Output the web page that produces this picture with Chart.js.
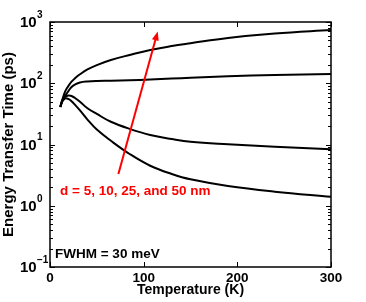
<!DOCTYPE html>
<html>
<head>
<meta charset="utf-8">
<script src="https://cdn.jsdelivr.net/npm/chart.js@4/dist/chart.umd.min.js"></script>
<style>
  html, body { margin: 0; padding: 0; background: #fff; }
  #wrap { width: 366px; height: 302px; }
</style>
</head>
<body>
<div id="wrap"><canvas id="chart" width="366" height="302"></canvas></div>
<script>
// temperature grid (K)
const temps = [11, 13, 15, 17, 20, 23, 27, 32, 40, 50, 65, 85, 107, 130, 150, 190, 240, 300]
// energy transfer time (ps) for each separation
const d50 = [41, 53, 66, 78, 92, 106, 122, 140, 168, 198, 240, 290, 350, 405, 450, 550, 650, 740]
const d25 = [41, 50, 58, 65, 76, 87, 96, 103, 107, 109, 110, 112, 115, 119, 123, 130, 136, 142]
const d10 = [41, 52, 58, 61, 63, 62, 57, 50, 39, 31.5, 23.5, 18, 14.3, 12.3, 11.1, 10.1, 9.2, 8.4]
const d5 = [41, 50, 55, 57, 55, 51, 44, 36, 25.5, 17.5, 11.5, 7.0, 4.5, 3.3, 2.7, 2.1, 1.7, 1.4]

const xTicks = [0, 100, 200, 300]
const yPowers = [-1, 0, 1, 2, 3]
const arrowFrom = { x: 73, y: 3.3 }
const arrowTo = { x: 115, y: 700 }

const toPoints = vals => temps.map((t, i) => ({ x: t, y: vals[i] }))

const lineStyle = {
  borderColor: '#000',
  borderWidth: 2,
  pointRadius: 0,
  fill: false,
  tension: 0.4
}

const FONT = '"Liberation Sans", Arial, Helvetica, sans-serif'

const decorations = {
  id: 'decorations',
  afterDraw(chart) {
    const { ctx, chartArea: a, scales } = chart
    const xs = scales.x, ys = scales.y
    ctx.save()

    // frame
    ctx.strokeStyle = '#000'
    ctx.lineWidth = 1.5
    ctx.strokeRect(a.left, a.top, a.right - a.left, a.bottom - a.top)

    // x ticks, top and bottom, pointing inward
    ctx.lineWidth = 1
    ctx.beginPath()
    xTicks.forEach(v => {
      const px = Math.round(xs.getPixelForValue(v)) + 0.5
      ctx.moveTo(px, a.bottom); ctx.lineTo(px, a.bottom - 5)
      ctx.moveTo(px, a.top); ctx.lineTo(px, a.top + 5)
    })
    // y major + minor ticks on both sides
    yPowers.forEach(p => {
      for (let m = 1; m <= 9; m++) {
        const v = m * Math.pow(10, p)
        if (v > 1000) break
        const py = Math.round(ys.getPixelForValue(v)) + 0.5
        const len = m === 1 ? 5 : 3
        ctx.moveTo(a.left, py); ctx.lineTo(a.left + len, py)
        ctx.moveTo(a.right, py); ctx.lineTo(a.right - len, py)
      }
    })
    ctx.stroke()

    // y tick labels: 10 with superscript exponent
    ctx.fillStyle = '#000'
    yPowers.forEach(p => {
      const py = ys.getPixelForValue(Math.pow(10, p))
      ctx.font = 'bold 15px ' + FONT
      ctx.textAlign = 'left'
      ctx.textBaseline = 'middle'
      ctx.fillText('10', 20, py + 1)
      ctx.font = 'bold 10px ' + FONT
      ctx.fillText(p < 0 ? '\u2212' + Math.abs(p) : String(p), 37, py - 7)
    })

    // red arrow
    const x1 = xs.getPixelForValue(arrowFrom.x), y1 = ys.getPixelForValue(arrowFrom.y)
    const x2 = xs.getPixelForValue(arrowTo.x), y2 = ys.getPixelForValue(arrowTo.y)
    const ang = Math.atan2(y2 - y1, x2 - x1)
    ctx.strokeStyle = '#f00'
    ctx.fillStyle = '#f00'
    ctx.lineWidth = 2
    ctx.beginPath()
    ctx.moveTo(x1, y1)
    ctx.lineTo(x2 - 6 * Math.cos(ang), y2 - 6 * Math.sin(ang))
    ctx.stroke()
    ctx.beginPath()
    ctx.moveTo(x2, y2)
    ctx.lineTo(x2 - 9 * Math.cos(ang) + 3.5 * Math.sin(ang), y2 - 9 * Math.sin(ang) - 3.5 * Math.cos(ang))
    ctx.lineTo(x2 - 9 * Math.cos(ang) - 3.5 * Math.sin(ang), y2 - 9 * Math.sin(ang) + 3.5 * Math.cos(ang))
    ctx.closePath()
    ctx.fill()

    // annotations
    ctx.font = 'bold 13.5px ' + FONT
    ctx.textAlign = 'left'
    ctx.textBaseline = 'middle'
    ctx.fillStyle = '#f00'
    ctx.fillText('d = 5, 10, 25, and 50 nm', 60, 191)
    ctx.fillStyle = '#000'
    ctx.fillText('FWHM = 30 meV', 55, 254)

    ctx.restore()
  }
}

const ctx = document.getElementById('chart').getContext('2d')
new Chart(ctx, {
  type: 'line',
  data: {
    datasets: [
      { ...lineStyle, label: 'd = 5 nm', data: toPoints(d5) },
      { ...lineStyle, label: 'd = 10 nm', data: toPoints(d10) },
      { ...lineStyle, label: 'd = 25 nm', data: toPoints(d25) },
      { ...lineStyle, label: 'd = 50 nm', data: toPoints(d50) }
    ]
  },
  options: {
    responsive: false,
    animation: false,
    events: [],
    layout: { padding: { left: 0, right: 35, top: 22, bottom: 0 } },
    plugins: { legend: { display: false }, tooltip: { enabled: false } },
    scales: {
      x: {
        type: 'linear',
        min: 0,
        max: 300,
        border: { display: false },
        grid: { display: false, drawTicks: false },
        ticks: { stepSize: 100, padding: 3, color: '#000', font: { family: FONT, size: 13.5, weight: 'bold' }, maxRotation: 0 },
        title: { display: true, text: 'Temperature (K)', color: '#000', padding: { top: 0, bottom: 3 }, font: { family: FONT, size: 14, weight: 'bold' } },
        afterFit(s) { s.height = 35 }
      },
      y: {
        type: 'logarithmic',
        min: 0.1,
        max: 1000,
        border: { display: false },
        grid: { display: false, drawTicks: false },
        ticks: { display: false },
        title: { display: true, text: 'Energy Transfer Time (ps)', color: '#000', padding: { top: 0, bottom: 0 }, font: { family: FONT, size: 15, weight: 'bold' } },
        afterFit(s) { s.width = 50 }
      }
    }
  },
  plugins: [decorations]
})
</script>
</body>
</html>
